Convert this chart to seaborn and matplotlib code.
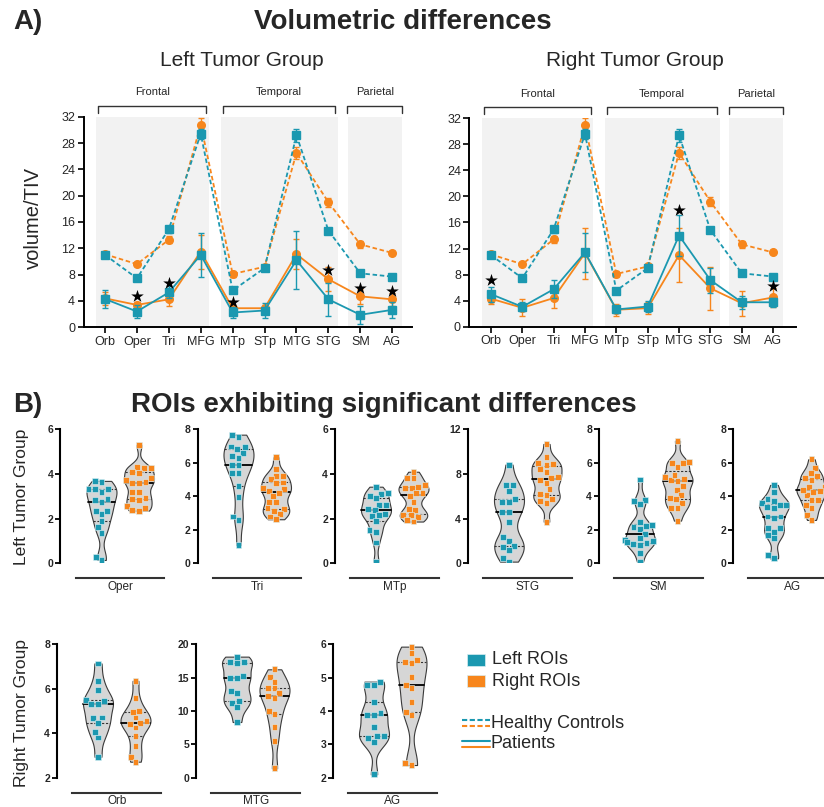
import numpy as np
import pandas as pd
import matplotlib
matplotlib.use("Agg")
import matplotlib.pyplot as plt
from matplotlib.lines import Line2D
from matplotlib.patches import Rectangle
import seaborn as sns

# -----------------------------
# Data
# -----------------------------
rois = ["Orb", "Oper", "Tri", "MFG", "MTp", "STp", "MTG", "STG", "SM", "AG"]
lobes = ["Frontal", "Temporal", "Parietal"]

# Left tumor group: mean and SD of volume/TIV
lt_hc_left = [11.0, 7.45, 14.9, 29.4, 5.6, 9.0, 29.2, 14.7, 8.2, 7.7]
lt_hc_left_sd = [0.4, 0.4, 0.5, 0.8, 0.4, 0.4, 1.0, 0.4, 0.3, 0.3]
lt_hc_right = [11.1, 9.6, 13.3, 30.8, 8.1, 9.2, 26.5, 19.0, 12.6, 11.3]
lt_hc_right_sd = [0.4, 0.3, 0.5, 1.0, 0.4, 0.3, 0.9, 0.7, 0.5, 0.3]
lt_pat_left = [4.3, 2.4, 5.3, 11.0, 2.25, 2.55, 10.2, 4.25, 1.9, 2.65]
lt_pat_left_sd = [1.4, 1.05, 0.9, 3.3, 0.9, 1.2, 4.4, 2.5, 1.4, 1.2]
lt_pat_right = [4.4, 3.4, 4.25, 11.5, 2.9, 2.9, 11.1, 7.3, 4.7, 4.25]
lt_pat_right_sd = [1.0, 0.5, 1.0, 2.6, 0.4, 0.5, 2.3, 1.8, 1.1, 1.0]
lt_stars = {"Oper": 4.7, "Tri": 6.8, "MTp": 3.8, "STG": 8.7, "SM": 6.0, "AG": 5.5}

# Right tumor group
rt_hc_left = [11.0, 7.45, 14.95, 29.6, 5.55, 9.0, 29.4, 14.85, 8.2, 7.7]
rt_hc_left_sd = [0.4, 0.4, 0.5, 0.8, 0.4, 0.4, 1.0, 0.4, 0.3, 0.3]
rt_hc_right = [11.1, 9.6, 13.4, 31.0, 8.1, 9.25, 26.7, 19.2, 12.65, 11.4]
rt_hc_right_sd = [0.4, 0.3, 0.5, 1.0, 0.4, 0.3, 0.9, 0.7, 0.5, 0.3]
rt_pat_left = [5.0, 3.05, 5.75, 11.4, 2.65, 3.1, 14.0, 7.15, 3.75, 3.75]
rt_pat_left_sd = [1.15, 0.7, 1.4, 3.0, 0.6, 0.8, 3.2, 1.9, 1.0, 0.7]
rt_pat_right = [4.3, 2.9, 4.4, 11.3, 2.6, 2.85, 11.0, 5.9, 3.6, 4.5]
rt_pat_right_sd = [0.8, 1.3, 1.6, 3.9, 0.95, 0.95, 4.1, 3.3, 1.9, 1.4]
rt_stars = {"Orb": 7.15, "MTG": 17.9, "AG": 6.3}

# Individual patients, left tumor group
lt_oper_l = [3.63, 3.69, 3.31, 3.21, 3.31, 3.31, 2.88, 2.76, 2.84, 2.36, 2.36, 2.19, 1.90, 1.61, 1.37, 0.15, 0.30]
lt_oper_r = [5.30, 4.33, 4.25, 4.25, 4.06, 4.10, 3.73, 3.81, 3.65, 3.60, 3.58, 3.21, 3.21, 2.88, 2.84, 2.91, 2.57, 2.39, 2.36, 2.46]
lt_tri_l = [7.52, 7.68, 6.80, 6.97, 6.93, 6.57, 6.27, 6.41, 5.41, 5.87, 5.87, 5.41, 4.62, 3.98, 2.59, 2.79, 1.09]
lt_tri_r = [6.33, 5.61, 5.21, 5.21, 5.01, 4.78, 4.82, 4.48, 4.42, 4.22, 4.34, 4.02, 3.68, 3.68, 3.22, 3.14, 3.28, 2.95, 2.63, 2.79]
lt_mtp_l = [3.43, 3.03, 3.10, 3.13, 2.61, 2.61, 2.91, 2.39, 2.21, 2.16, 2.42, 2.12, 1.90, 1.42, 1.49, 0.93, 0.07]
lt_mtp_r = [4.10, 3.81, 3.81, 3.36, 3.36, 3.43, 3.50, 3.13, 3.13, 2.76, 3.00, 2.39, 2.42, 2.16, 2.16, 2.09, 1.87, 1.94]
lt_stg_l = [8.84, 7.00, 7.00, 6.48, 5.73, 5.52, 5.52, 4.63, 4.63, 3.73, 2.03, 2.33, 1.55, 1.19, 1.49, 0.45, 0.15]
lt_stg_r = [10.69, 9.49, 8.90, 8.96, 8.81, 8.42, 8.21, 7.76, 7.61, 7.22, 7.46, 6.63, 6.21, 6.12, 5.73, 5.61, 5.37, 3.73]
lt_sm_l = [5.00, 3.78, 3.54, 3.74, 2.45, 2.25, 2.15, 2.30, 2.05, 1.75, 1.50, 1.40, 1.35, 1.20, 1.10, 1.15, 1.25, 0.60, 0.10]
lt_sm_r = [7.32, 5.97, 6.01, 6.07, 5.77, 5.13, 4.93, 5.01, 4.95, 4.38, 4.60, 4.08, 3.82, 3.88, 3.58, 3.28, 3.28, 5.27, 2.55]
lt_ag_l = [4.68, 4.28, 3.72, 3.82, 3.58, 3.48, 3.34, 3.28, 3.48, 2.79, 2.79, 2.09, 1.89, 1.69, 1.49, 2.09, 0.50, 0.30, 2.69]
lt_ag_r = [6.21, 5.67, 5.37, 5.07, 4.97, 5.21, 4.58, 4.28, 4.58, 4.32, 4.08, 3.78, 3.78, 3.48, 3.28, 2.89, 2.59, 4.38]

# Individual patients, right tumor group
rt_orb_l = [7.14, 6.35, 5.94, 5.49, 5.31, 5.46, 5.31, 4.67, 4.71, 4.47, 4.07, 3.81, 2.94]
rt_orb_r = [6.36, 5.57, 4.97, 5.00, 4.71, 4.47, 4.56, 4.41, 4.26, 3.87, 3.42, 2.94, 2.72]
rt_mtg_l = [18.15, 17.30, 17.15, 17.30, 15.25, 14.90, 14.90, 12.65, 13.05, 11.55, 11.25, 10.55, 8.35]
rt_mtg_r = [16.25, 15.15, 14.40, 13.40, 13.40, 12.65, 12.25, 11.90, 10.05, 9.55, 7.65, 5.55, 1.40]
rt_ag_l = [4.88, 4.78, 4.78, 4.28, 3.88, 3.93, 3.88, 3.53, 3.25, 3.25, 3.18, 3.08, 2.10]
rt_ag_r = [5.93, 5.73, 5.48, 5.53, 5.43, 5.03, 4.78, 4.68, 4.28, 3.98, 3.88, 2.38, 2.43]

# -----------------------------
# Style / layout helpers
# -----------------------------
sns.set_theme(style="ticks")
plt.rcParams["font.family"] = ["Liberation Sans", "DejaVu Sans"]

TEAL = "#1b98b0"
ORANGE = "#f7861c"
SIDES = ["Left ROIs", "Right ROIs"]
W, H = 824, 807


def box(x0, y_top, x1, y_bottom):
    # pixel box -> figure fraction [left, bottom, width, height]
    return [x0 / W, 1 - y_bottom / H, (x1 - x0) / W, (y_bottom - y_top) / H]


def fx(px):
    return px / W


def fy(py):
    return 1 - py / H


fig = plt.figure(figsize=(W / 100, H / 100), dpi=100)

# -----------------------------
# A) Volumetric differences
# -----------------------------
shade_spans = [(-0.27, 3.27), (3.65, 7.3), (7.6, 9.32)]
bracket_spans = [(-0.23, 3.18), (3.7, 7.22), (7.58, 9.32)]


def volume_panel(ax, series, stars, xlim):
    pos = np.arange(len(rois))
    for lo, hi in shade_spans:
        ax.axvspan(lo, hi, color="#f2f2f2", lw=0, zorder=0)

    z = 2
    for vals, sd, color, marker, ls in series:
        ax.errorbar(pos, vals, yerr=sd, color=color, marker=marker, ms=5.5,
                    mec=color, ls=ls, lw=1.3, elinewidth=1.0, capsize=2.5,
                    capthick=1.0, zorder=z)
        z += 1

    sx = [rois.index(r) for r in stars]
    ax.scatter(sx, list(stars.values()), marker="*", s=90, color="black",
               zorder=10, lw=0)

    for (lo, hi), name in zip(bracket_spans, lobes):
        ax.plot([lo, lo, hi, hi], [32.6, 33.7, 33.7, 32.6], color="#333333",
                lw=1.0, clip_on=False)
        ax.text((lo + hi) / 2, 35.7, name, ha="center", va="center", fontsize=8)

    ax.set_xlim(*xlim)
    ax.set_ylim(0, 32)
    ax.set_xticks(pos, rois)
    ax.set_yticks(range(0, 33, 4))
    ax.tick_params(direction="out", length=4, width=1.2, labelsize=9, pad=2,
                   color="black")
    sns.despine(ax=ax)
    for sp in ["left", "bottom"]:
        ax.spines[sp].set_linewidth(1.4)
        ax.spines[sp].set_color("black")


def series_for(hcl, hcl_sd, hcr, hcr_sd, pl, pl_sd, pr, pr_sd):
    dash = (0, (2.5, 1.5))
    return [
        (hcr, hcr_sd, ORANGE, "o", dash),
        (hcl, hcl_sd, TEAL, "s", dash),
        (pr, pr_sd, ORANGE, "o", "-"),
        (pl, pl_sd, TEAL, "s", "-"),
    ]


ax_lt = fig.add_axes(box(83.5, 116.7, 412, 327.3))
volume_panel(ax_lt, series_for(lt_hc_left, lt_hc_left_sd, lt_hc_right, lt_hc_right_sd,
                               lt_pat_left, lt_pat_left_sd, lt_pat_right, lt_pat_right_sd),
             lt_stars, (-0.674, 9.62))

ax_rt = fig.add_axes(box(469.3, 118.3, 796, 326.7))
volume_panel(ax_rt, series_for(rt_hc_left, rt_hc_left_sd, rt_hc_right, rt_hc_right_sd,
                               rt_pat_left, rt_pat_left_sd, rt_pat_right, rt_pat_right_sd),
             rt_stars, (-0.69, 9.73))

fig.text(fx(13), fy(22), "A)", fontsize=20, fontweight="bold", va="center")
fig.text(fx(254), fy(22), "Volumetric differences", fontsize=20,
         fontweight="bold", va="center")
fig.text(fx(242), fy(60), "Left Tumor Group", fontsize=15, ha="center", va="center")
fig.text(fx(635), fy(60), "Right Tumor Group", fontsize=15, ha="center", va="center")
fig.text(fx(33), fy(218), "volume/TIV", fontsize=14.5, rotation=90,
         ha="center", va="center")

# -----------------------------
# B) ROIs exhibiting significant differences
# -----------------------------
UNIT = 37.5  # px between the two violins


def violin_panel(axis_px, top_px, bottom_px, left_vals, right_vals, roi, yticks):
    x_lo, x_hi = -1.093, 1.8
    x0 = axis_px
    x1 = axis_px + (x_hi - x_lo) * UNIT
    ax = fig.add_axes(box(x0, top_px, x1, bottom_px))
    df = pd.DataFrame({
        "side": [SIDES[0]] * len(left_vals) + [SIDES[1]] * len(right_vals),
        "value": left_vals + right_vals,
    })
    sns.violinplot(data=df, x="side", y="value", order=SIDES, color="#d6d6d6",
                   saturation=1, linecolor="#3a3a3a", linewidth=0.8,
                   inner="quart", cut=0, density_norm="width", bw_adjust=0.6,
                   width=0.8, ax=ax)
    for i, line in enumerate(ax.lines):
        if i % 3 == 1:
            line.set_linestyle("-")
            line.set_color("black")
            line.set_linewidth(1.3)
        else:
            line.set_linestyle((0, (2, 1.5)))
            line.set_color("#333333")
            line.set_linewidth(0.8)
    sns.swarmplot(data=df, x="side", y="value", hue="side", order=SIDES,
                  hue_order=SIDES, palette=[TEAL, ORANGE], marker="s", size=4.2,
                  edgecolor="#dff1f4", linewidth=0.4, legend=False, ax=ax)

    ax.set_xlim(x_lo, x_hi)
    ax.set_ylim(yticks[0], yticks[-1])
    ax.set_yticks(yticks, [str(t) for t in yticks], fontsize=7.5, fontweight="bold")
    ax.set_xticks([])
    ax.set_ylabel("")
    ax.set_xlabel(roi, fontsize=8.5, labelpad=2)
    ax.xaxis.label.set_x((0.5 - x_lo) / (x_hi - x_lo))
    ax.tick_params(axis="y", direction="out", length=3.5, width=1.3, pad=1.5,
                   color="black")
    sns.despine(ax=ax)
    ax.spines["left"].set_linewidth(1.5)
    ax.spines["left"].set_color("black")
    ax.spines["bottom"].set_position(("outward", 10.8))
    ax.spines["bottom"].set_bounds(-0.68, 1.67)
    ax.spines["bottom"].set_linewidth(1.5)
    ax.spines["bottom"].set_color("#333333")
    return ax


row1_top, row1_bottom = 429.3, 563.3
violin_panel(60.5, row1_top, row1_bottom, lt_oper_l, lt_oper_r, "Oper", [0, 2, 4, 6])
violin_panel(197.5, row1_top, row1_bottom, lt_tri_l, lt_tri_r, "Tri", [0, 2, 4, 6, 8])
violin_panel(335, row1_top, row1_bottom, lt_mtp_l, lt_mtp_r, "MTp", [0, 2, 4, 6])
violin_panel(468, row1_top, row1_bottom, lt_stg_l, lt_stg_r, "STG", [0, 4, 8, 12])
violin_panel(599, row1_top, row1_bottom, lt_sm_l, lt_sm_r, "SM", [0, 2, 4, 6, 8])
violin_panel(733, row1_top, row1_bottom, lt_ag_l, lt_ag_r, "AG", [0, 2, 4, 6, 8])

row2_top, row2_bottom = 644.3, 777.7
violin_panel(57, row2_top, row2_bottom, rt_orb_l, rt_orb_r, "Orb", [2, 4, 6, 8])
violin_panel(196, row2_top, row2_bottom, rt_mtg_l, rt_mtg_r, "MTG", [0, 5, 10, 15, 20])
violin_panel(333, row2_top, row2_bottom, rt_ag_l, rt_ag_r, "AG", [2, 3, 4, 5, 6])

fig.text(fx(13), fy(405), "B)", fontsize=20, fontweight="bold", va="center")
fig.text(fx(131), fy(405), "ROIs exhibiting significant differences", fontsize=20,
         fontweight="bold", va="center")
fig.text(fx(22), fy(497), "Left Tumor Group", fontsize=12.5, rotation=90,
         ha="center", va="center")
fig.text(fx(22), fy(713), "Right Tumor Group", fontsize=12.5, rotation=90,
         ha="center", va="center")

# -----------------------------
# Legend (drawn by hand to stack the line samples)
# -----------------------------
for label, color, ytop in [("Left ROIs", TEAL, 654), ("Right ROIs", ORANGE, 675)]:
    fig.add_artist(Rectangle((fx(467), fy(ytop + 12)), 18 / W, 12 / H,
                             transform=fig.transFigure, facecolor=color,
                             edgecolor="#d8eef2", lw=0.5))
    fig.text(fx(492), fy(ytop + 6), label, fontsize=13, va="center")

for label, ls, yc in [("Healthy Controls", (0, (2.5, 1.2)), 723), ("Patients", "-", 744)]:
    for color, dy in [(TEAL, -3.3), (ORANGE, 3.3)]:
        fig.add_artist(Line2D([fx(462), fx(490)], [fy(yc + dy)] * 2,
                              transform=fig.transFigure, color=color, ls=ls, lw=1.5))
    fig.text(fx(491), fy(yc), label, fontsize=13, va="center")

fig.savefig("out.png", dpi=100)
